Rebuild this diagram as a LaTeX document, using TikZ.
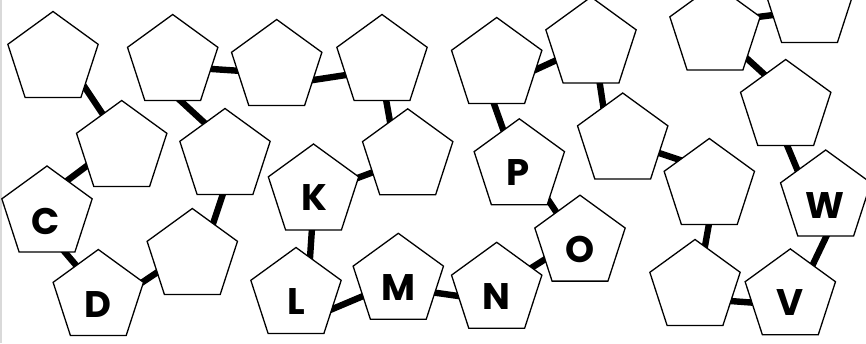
\documentclass[tikz,border=0pt]{standalone}
\usepackage{fontspec}
\newfontfamily\letterfont{Poppins}
\usetikzlibrary{shapes.geometric,calc}
\tikzset{
  pent/.style={regular polygon, regular polygon sides=5, minimum size=95pt, inner sep=0pt,
    draw=black, fill=white, line width=1.3pt, line join=miter},
  bar/.style={draw=black, line width=6.4pt},
  letter/.style={inner sep=0pt, font=\letterfont\bfseries\fontsize{37}{37}\selectfont}
}
\newcommand{\conn}[6]{\draw[bar] ($(#1)+(#2,#3)$) -- ($(#4)+(#5,#6)$);}
\begin{document}
\begin{tikzpicture}[x=1pt,y=-1pt]
\useasboundingbox (0,0) rectangle (866,343);
\fill[white] (0,0) rectangle (866,343);
\draw[gray!30, line width=1.5pt] (0.75,0) -- (0.75,343);
% pentagon positions
\coordinate (P1) at (53,59);
\coordinate (P2) at (172.7,62);
\coordinate (P3) at (276.7,67);
\coordinate (P4) at (382,62);
\coordinate (P5) at (496.7,65);
\coordinate (P6) at (591,44.5);
\coordinate (P7) at (715,31.5);
\coordinate (P8) at (809.5,4);
\coordinate (P9) at (785.7,107);
\coordinate (P10) at (121.7,148);
\coordinate (P11) at (225,156);
\coordinate (P12) at (407.7,156.3);
\coordinate (PP) at (519.3,166.3);
\coordinate (P14) at (622.7,140.5);
\coordinate (P15) at (709.3,186);
\coordinate (PW) at (825.7,197.5);
\coordinate (PC) at (47,213.5);
\coordinate (PD) at (98.3,297);
\coordinate (P19) at (192.3,256);
\coordinate (PK) at (313.5,191.5);
\coordinate (PL) at (296,295);
\coordinate (PM) at (398.3,280.8);
\coordinate (PN) at (496.7,289.8);
\coordinate (PO) at (580,242.7);
\coordinate (P25) at (695,287);
\coordinate (PV) at (790.3,296.4);
% connectors
\conn{P1}{23.6}{16}{P10}{-11.7}{-23}
\conn{P2}{27}{6.2}{P3}{-27.4}{4.5}
\conn{P2}{1.8}{33.2}{P11}{-11.2}{-24.6}
\conn{P10}{-24.1}{9.8}{PC}{11.4}{-26.3}
\conn{PC}{11.9}{31.7}{PD}{-13.8}{-21.9}
\conn{PD}{33.4}{-7.6}{P19}{-25.6}{10}
\conn{P19}{17.2}{-21.9}{P11}{0.5}{30.3}
\conn{P3}{24.7}{14.8}{P4}{-24.1}{11.2}
\conn{P4}{2.6}{29.5}{P12}{-15.6}{-22.8}
\conn{P5}{-5.7}{30.4}{PP}{-12}{-25}
\conn{P5}{27.4}{10}{P6}{-23.4}{10.5}
\conn{PK}{33.5}{-9.6}{P12}{-24.7}{12.2}
\conn{PK}{-1}{29.2}{PL}{13.2}{-25.3}
\conn{PL}{24.6}{19}{PM}{-23.9}{10.5}
\conn{PM}{24.8}{10.2}{PN}{-26.5}{7.9}
\conn{PN}{24.9}{-15.7}{PO}{-24.9}{10.2}
\conn{PP}{24}{26.4}{PO}{-16.6}{-20}
\conn{P7}{33.1}{-13.3}{P8}{-24.3}{9.5}
\conn{P7}{22.8}{18.7}{P9}{-11.8}{-23.9}
\conn{P6}{7.2}{28.6}{P14}{-17.6}{-21.9}
\conn{P14}{25.9}{9}{P15}{-17.9}{-22.2}
\conn{P9}{-2}{30.2}{PW}{-24.4}{-18.1}
\conn{P15}{1.1}{29.9}{P25}{7.9}{-29.2}
\conn{P25}{23}{13.1}{PV}{-25}{7.2}
\conn{PV}{17.9}{-22.2}{PW}{4.4}{30.9}
% pentagons
\foreach \p in {P1,P2,P3,P4,P5,P6,P7,P8,P9,P10,P11,P12,PP,P14,P15,PW,PC,PD,P19,PK,PL,PM,PN,PO,P25,PV}
  \node[pent] (n\p) at (\p) {};
% letters
\node[letter] (lC) at ($(PC)+(-1,7.5)$) {C};
\node[letter] (lD) at ($(PD)+(-0.8,7.7)$) {D};
\node[letter] (lK) at ($(PK)+(0.5,6.5)$) {K};
\node[letter] (lL) at ($(PL)+(0,7)$) {L};
\node[letter] (lM) at ($(PM)+(0,7.2)$) {M};
\node[letter] (lN) at ($(PN)+(-0.4,6.7)$) {N};
\node[letter] (lO) at ($(PO)+(0,7)$) {O};
\node[letter] (lP) at ($(PP)+(-1.3,6.7)$) {P};
\node[letter] (lV) at ($(PV)+(0,6)$) {V};
\node[letter] (lW) at ($(PW)+(-0.7,8.5)$) {W};
\end{tikzpicture}
\end{document}
